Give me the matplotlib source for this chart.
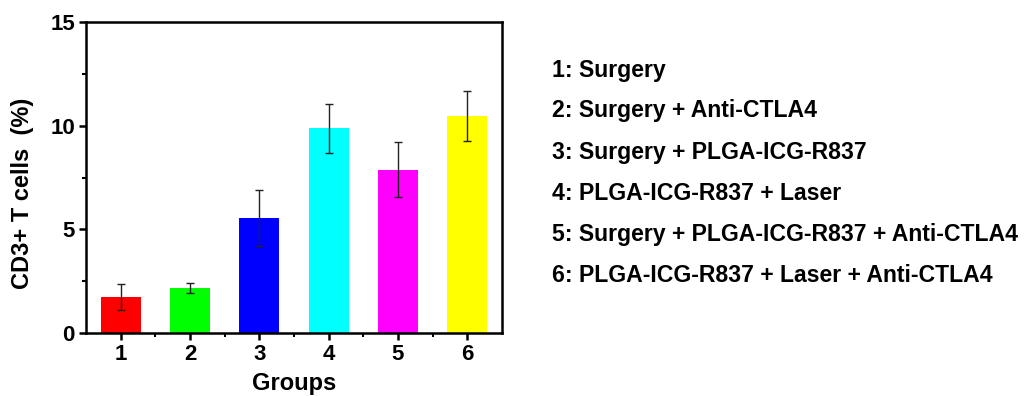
import numpy as np
import matplotlib
matplotlib.use("Agg")
import matplotlib.pyplot as plt
from matplotlib.ticker import MultipleLocator, FixedLocator

plt.rcParams['font.family'] = ['Liberation Sans', 'DejaVu Sans']
plt.rcParams['font.weight'] = 'bold'

# data
groups = [1, 2, 3, 4, 5, 6]
means = [1.74, 2.17, 5.56, 9.87, 7.87, 10.47]
errors = [0.63, 0.25, 1.36, 1.19, 1.32, 1.20]
colors = ['#ff0000', '#00ff00', '#0000ff', '#00ffff', '#ff00ff', '#ffff00']
legend_lines = [
    "1: Surgery",
    "2: Surgery + Anti-CTLA4",
    "3: Surgery + PLGA-ICG-R837",
    "4: PLGA-ICG-R837 + Laser",
    "5: Surgery + PLGA-ICG-R837 + Anti-CTLA4",
    "6: PLGA-ICG-R837 + Laser + Anti-CTLA4",
]

fig = plt.figure(figsize=(10.34, 3.96), dpi=100)
ax = fig.add_axes([86 / 1034, 1 - 333 / 396, (502 - 86) / 1034, (333 - 22) / 396])

ax.bar(groups, means, width=0.58, color=colors, zorder=2)
ax.errorbar(groups, means, yerr=errors, fmt='none', ecolor='#222222',
            elinewidth=1.0, capsize=3, capthick=1.0, zorder=3)

ax.set_xlim(0.5, 6.5)
ax.set_ylim(0, 15)
ax.set_xticks(groups)
ax.set_yticks([0, 5, 10, 15])
ax.xaxis.set_minor_locator(FixedLocator([1.5, 2.5, 3.5, 4.5, 5.5]))
ax.yaxis.set_minor_locator(MultipleLocator(2.5))

for s in ax.spines.values():
    s.set_linewidth(1.8)
ax.tick_params(which='major', direction='out', length=5, width=1.8, labelsize=16, pad=3)
ax.tick_params(which='minor', direction='out', length=3, width=1.5)
ax.tick_params(top=False, right=False)

ax.set_xlabel("Groups", fontsize=17, fontweight='bold', labelpad=5)
ax.set_ylabel("CD3+ T cells  (%)", fontsize=17, fontweight='bold')
ax.yaxis.set_label_coords(-0.125, 0.45)

for i, line in enumerate(legend_lines):
    fig.text(552 / 1034, 1 - (70 + i * 41) / 396, line, fontsize=16.6,
             fontweight='bold', va='center', ha='left')

fig.savefig("out.png", dpi=100)
